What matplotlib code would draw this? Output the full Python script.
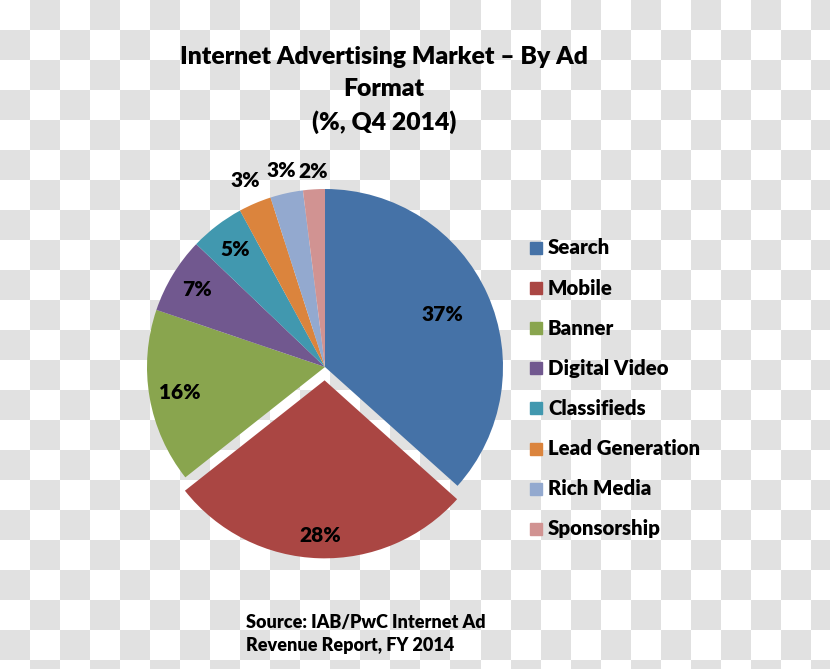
import numpy as np
import matplotlib
matplotlib.use('Agg')
import matplotlib.pyplot as plt

formats = ['Search', 'Mobile', 'Banner', 'Digital Video', 'Classifieds',
           'Lead Generation', 'Rich Media', 'Sponsorship']
shares = [37, 28, 16, 7, 5, 3, 3, 2]
colors = ['#4572A7', '#AA4643', '#89A54E', '#71588F', '#4198AF',
          '#DB843D', '#93A9CF', '#D19392']
explode = [0, 0.075, 0, 0, 0, 0, 0, 0]
# label distance as fraction of radius (excel "best fit" look)
label_r = [0.72, 0.87, 0.83, 0.84, 0.83, 1.14, 1.13, 1.10]

title = 'Internet Advertising Market \u2013 By Ad\nFormat\n(%, Q4 2014)'
source = 'Source: IAB/PwC Internet Ad\nRevenue Report, FY 2014'

W, H = 830, 669
fig = plt.figure(figsize=(W / 100, H / 100), dpi=100)
WT = 'heavy'

# checkered background
bg = fig.add_axes([0, 0, 1, 1])
sq = 30
nx, ny = W // sq + 1, H // sq + 1
cells = (np.add.outer(np.arange(ny), np.arange(nx)) % 2).astype(float)
bg.imshow(cells, cmap=matplotlib.colors.ListedColormap(['#ffffff', '#e1e1e1']),
          extent=(0, nx * sq, ny * sq, 0), interpolation='nearest', aspect='auto')
bg.set_xlim(0, W)
bg.set_ylim(H, 0)
bg.axis('off')

# pie axes: centre (325, 367) px, radius 178 px
R = 178
cx, cy = 325, H - 367
ax = fig.add_axes([(cx - 1.5 * R) / W, (cy - 1.5 * R) / H, 3 * R / W, 3 * R / H])
wedges, _ = ax.pie(shares, colors=colors, explode=explode, startangle=90,
                   counterclock=False, wedgeprops=dict(linewidth=0))
ax.set_xlim(-1.5, 1.5)
ax.set_ylim(-1.5, 1.5)

for w, v, r, ex in zip(wedges, shares, label_r, explode):
    ang = np.deg2rad((w.theta1 + w.theta2) / 2)
    d = r + ex
    ax.text(d * np.cos(ang), d * np.sin(ang), f'{v}%', ha='center', va='center',
            fontsize=15, fontweight=WT, family='Lato', color='black')

fig.text(384 / W, 1 - 90 / H, title, ha='center', va='center', fontsize=17.8,
         fontweight=WT, family='Lato', linespacing=1.55)

# legend
for i, (name, c) in enumerate(zip(formats, colors)):
    y = 1 - (248 + 40.1 * i) / H
    fig.patches.append(plt.Rectangle((530 / W, y - 6 / H), 12 / W, 12 / H,
                                     transform=fig.transFigure, color=c))
    fig.text(548 / W, y, name, ha='left', va='center', fontsize=14.7,
             fontweight=WT, family='Lato')

fig.text(246 / W, 1 - 634 / H, source, ha='left', va='center', fontsize=13,
         fontweight=WT, family='Lato', linespacing=1.45)

fig.savefig('out.png', dpi=100)
